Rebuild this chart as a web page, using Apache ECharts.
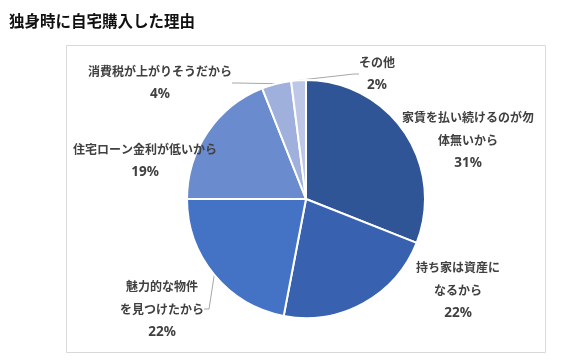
<!DOCTYPE html>
<html><head><meta charset="utf-8">
<script src="https://cdn.jsdelivr.net/npm/echarts@6/dist/echarts.min.js"></script>
<style>html,body{margin:0;padding:0;background:#fff}#c{width:561px;height:361px}</style>
</head><body><div id="c"></div>
<script>
const categories = ['家賃を払い続けるのが勿\n体無いから', '持ち家は資産に\nなるから', '魅力的な物件\nを見つけたから', '住宅ローン金利が低いから', '消費税が上がりそうだから', 'その他'];
const values = [31, 22, 22, 19, 4, 2];

const colors = ['#2F5597', '#3862B0', '#4472C4', '#6A8BCE', '#9EB0DB', '#BDC8E6'];
const labelPos = [[468, 140], [458, 290], [162, 309], [145, 161], [160, 83], [377, 74]];
const showLine = [false, false, true, false, true, true];

const chart = echarts.init(document.getElementById('c'), null, {renderer: 'canvas'});
chart.setOption({
  animation: false,
  title: {
    text: '独身時に自宅購入した理由', left: 4, top: 8,
    textStyle: {fontSize: 15.5, fontWeight: 'bold', color: '#111', fontFamily: 'Noto Sans CJK JP'}
  },
  graphic: [{
    type: 'rect', shape: {x: 66.5, y: 45.5, width: 479, height: 307},
    style: {fill: 'none', stroke: '#D9D9D9', lineWidth: 1}, z: -1
  }],
  series: [{
    type: 'pie',
    center: [306, 199],
    radius: 119,
    startAngle: 90,
    clockwise: true,
    itemStyle: {borderColor: '#fff', borderWidth: 2},
    label: {
      show: true, formatter: '{n|{b}}\n{p|{c}%}',
      fontSize: 12, lineHeight: 23, color: '#404040', fontWeight: 'bold',
      fontFamily: 'Noto Sans CJK JP', align: 'center',
      rich: {
        n: {fontSize: 12, lineHeight: 23, color: '#404040', fontWeight: 'bold', fontFamily: 'Noto Sans CJK JP', align: 'center'},
        p: {fontSize: 13.5, lineHeight: 23, color: '#404040', fontWeight: 'bold', fontFamily: 'Noto Sans', align: 'center'}
      }
    },
    labelLine: {show: true, lineStyle: {color: '#A6A6A6', width: 1}, length: 5, length2: 5},
    labelLayout: function (p) {
      const pos = labelPos[p.dataIndex];
      return {x: pos[0], y: pos[1], align: 'center', verticalAlign: 'middle'};
    },
    data: categories.map((n, i) => ({
      name: n, value: values[i],
      itemStyle: {color: colors[i]},
      labelLine: {show: showLine[i]}
    }))
  }]
});
</script></body></html>
